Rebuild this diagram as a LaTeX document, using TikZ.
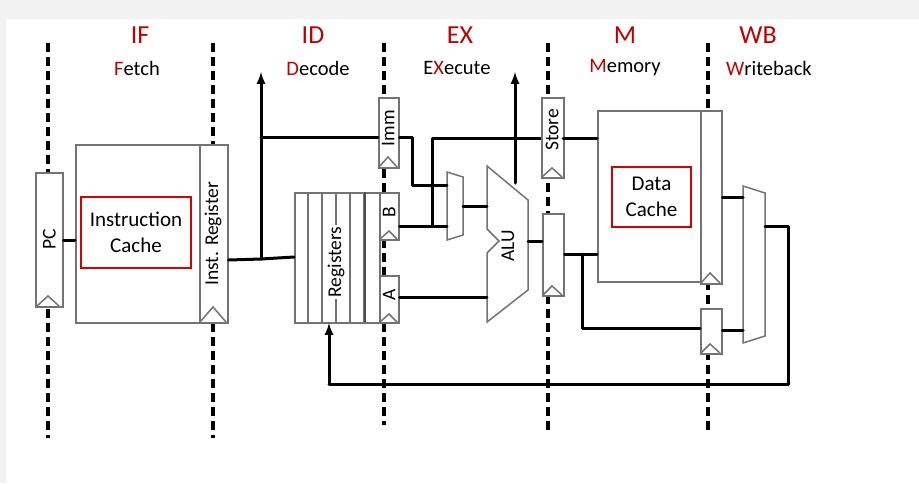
\documentclass[tikz,border=0pt]{standalone}
\usepackage{fontspec}
\setmainfont{Carlito}
\begin{document}
\begin{tikzpicture}[x=1pt,y=-1pt,
  box/.style={draw=black!55,line width=1.5pt,fill=white,anchor=north west,inner sep=0pt},
  wire/.style={line width=3pt,line cap=round,line join=round},
  stage/.style={line width=4.5pt,dash pattern=on 9pt off 5pt},
  clk/.style={draw=black!55,line width=1.5pt},
  red box/.style={draw=red!85!black,line width=2pt,fill=white,anchor=north west,inner sep=0pt,align=center,font=\fontsize{21}{26}\selectfont},
  hd/.style={text=red!75!black,font=\fontsize{26}{30}\selectfont},
  sub/.style={font=\fontsize{20.5}{24}\selectfont},
  lbl/.style={rotate=90,font=\fontsize{19.5}{22}\selectfont}]
\useasboundingbox (0,0) rectangle (919,483);
\fill[black!5] (0,0) rectangle (919,483);
\fill[white] (6,19) rectangle (919,483);
% stage boundaries
\foreach \x/\b in {48/438,213/438,384/425,548/430,708/430}
  \draw[stage] (\x,43) -- (\x,\b);
% headers
\node[hd] (hif) at (140,35) {IF};
\node[hd] (hid) at (313,35) {ID};
\node[hd] (hex) at (460,35) {EX};
\node[hd] (hm) at (625,35) {M};
\node[hd] (hwb) at (758,35) {WB};
\node[sub] (sif) at (137,68) {\textcolor{red!75!black}{F}etch};
\node[sub] (sid) at (318,68) {\textcolor{red!75!black}{D}ecode};
\node[sub] (sex) at (457,68) {E\textcolor{red!75!black}{X}ecute};
\node[sub] (sm) at (625,68) {\textcolor{red!75!black}{M}emory};
\node[sub] (swb) at (769,68) {\textcolor{red!75!black}{W}riteback};
% IF
\node[box,minimum width=27pt,minimum height=134pt] (pc) at (35,172) {};
\node[lbl] at (pc.center) {PC};
\draw[clk] (37,306) -- (48,296) -- (59,306);
\node[box,minimum width=124pt,minimum height=178pt] (ic) at (75,144) {};
\node[red box,minimum width=110pt,minimum height=71pt] (icr) at (80,196) {Instruction\\Cache};
\node[box,minimum width=28pt,minimum height=178pt] (ir) at (199,144) {};
\node[lbl] at (213,234) {Inst. Register};
\draw[clk] (200,322) -- (213,307) -- (226,322);
\draw[wire] (pc.east|-0,240) -- (ic.west|-0,240);
% ID
\node[box,minimum width=85pt,minimum height=130pt] (rf) at (294,192) {};
\foreach \x in {308,322,336,350,364} \draw[black!55,line width=1.1pt] (\x,192) -- (\x,322);
\draw[black!70,line width=1.8pt] (365,192) -- (365,322);
\node[lbl,fill=white,inner sep=1pt] at (336,262) {Registers};
\node[box,minimum width=20pt,minimum height=70pt] (imm) at (378,97) {};
\node[lbl] at (388,128) {Imm};
\draw[clk] (379,167) -- (388,157) -- (397,167);
\node[box,minimum width=19pt,minimum height=47pt] (rb) at (379,192) {};
\node[lbl] at (389,212) {B};
\draw[clk] (380,239) -- (389,231) -- (397,239);
\node[box,minimum width=19pt,minimum height=47pt] (ra) at (379,275) {};
\node[lbl] at (389,295) {A};
\draw[clk] (380,322) -- (389,314) -- (397,322);
\coordinate (br) at (261,259);
\draw[wire] (ir.east|-0,260) -- (br) -- (rf.west|-0,257);
\draw[wire,-latex] (br) -- (261,72);
\draw[wire] (261,137) -- (imm.west|-0,137);
% EX
\draw[black!55,line width=1.5pt,fill=white] (447,172) -- (463,177) -- (463,235) -- (447,240) -- cycle;
\draw[black!55,line width=1.5pt,fill=white] (487,166) -- (528,200) -- (528,290) -- (487,322) -- (487,253) -- (499,241) -- (487,229) -- cycle;
\node[lbl] (alu) at (508,246) {ALU};
\draw[wire] (imm.east|-0,137) -- (412,137) -- (412,185) -- (447,185);
\draw[wire] (rb.east|-0,226) -- (447,226);
\draw[wire] (432,226) -- (432,138) -- (597,138);
\draw[wire] (463,206) -- (487,206);
\draw[wire] (ra.east|-0,297) -- (487,297);
\draw[wire,-latex] (515,183) -- (515,72);
\node[box,minimum width=22pt,minimum height=80pt] (st) at (541,97) {};
\node[lbl,fill=white,inner sep=0pt] at (552,130) {Store};
\draw[clk] (542,177) -- (552,168) -- (562,177);
\node[box,minimum width=21pt,minimum height=82pt] (ao) at (542,213) {};
\draw[clk] (543,295) -- (552,286) -- (562,295);
\draw[wire] (528,241) -- (ao.west|-0,241);
% M
\node[box,minimum width=103pt,minimum height=171pt] (dc) at (597,110) {};
\node[red box,minimum width=79pt,minimum height=60pt] (dcr) at (611,166) {Data\\Cache};
\draw[wire] (563,138) -- (dc.west|-0,138);
\node[box,minimum width=21pt,minimum height=173pt] (wr) at (700,110) {};
\draw[clk] (701,283) -- (710,273) -- (720,283);
\node[box,minimum width=21pt,minimum height=45pt] (sr) at (700,308) {};
\draw[clk] (701,353) -- (710,344) -- (720,353);
\draw[wire] (ao.east|-0,254) -- (dc.west|-0,254);
\draw[wire] (582,254) -- (582,328) -- (sr.west|-0,328);
% WB
\draw[black!55,line width=1.5pt,fill=white] (743,186) -- (765,193) -- (765,336) -- (743,343) -- cycle;
\draw[wire] (wr.east|-0,197) -- (743,197);
\draw[wire] (sr.east|-0,330) -- (743,330);
\draw[wire] (765,226) -- (788,226) -- (788,384) -- (329,384);
\draw[wire,-latex] (329,384) -- (329,323);
\end{tikzpicture}
\end{document}
